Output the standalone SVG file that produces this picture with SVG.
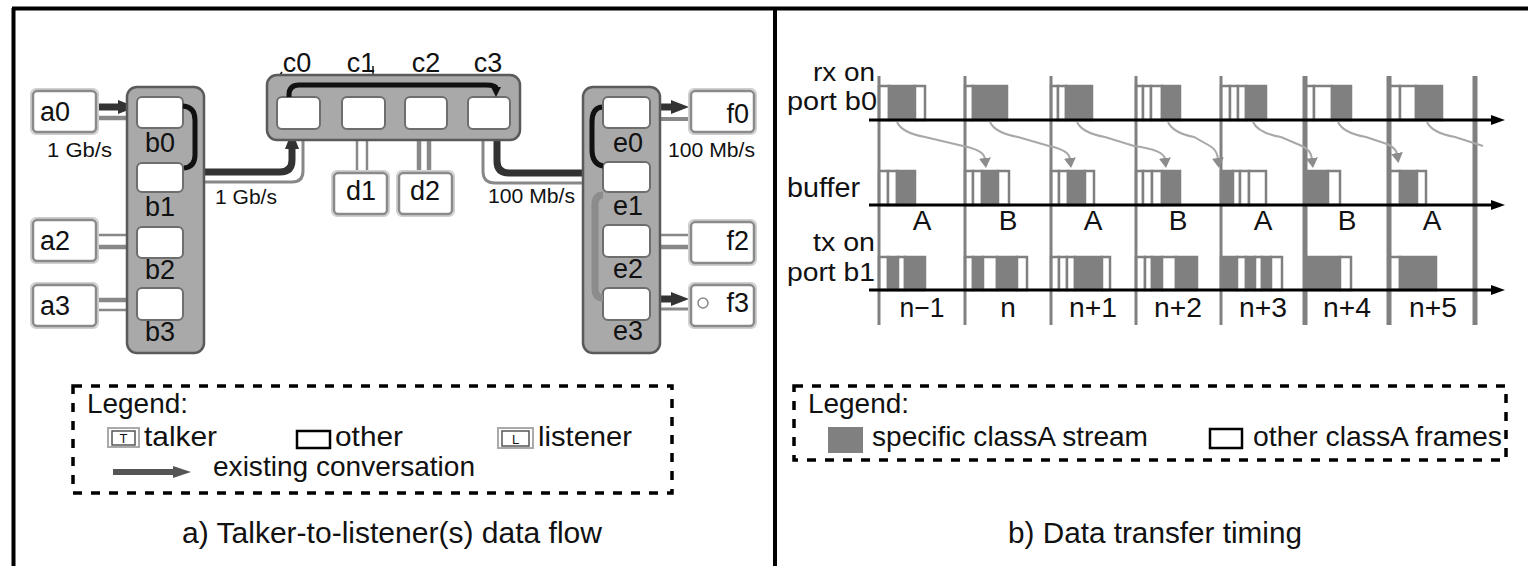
<svg xmlns="http://www.w3.org/2000/svg" width="1528" height="566" viewBox="0 0 1528 566">
<style>
  text { font-family: "Liberation Sans", Arial, Helvetica, sans-serif; fill: #111; }
  .nl { font-size: 27px; }
  .sm { font-size: 21px; }
  .lg { font-size: 28px; }
  .ttl { font-size: 30px; }
  .tl { font-size: 28px; }
  .rl { font-size: 26px; }
  .box { fill: #fff; stroke: #8a8a8a; stroke-width: 2.5; }
  .halo { fill: none; stroke: #d0d0d0; stroke-width: 2; }
  .grp { fill: #a9a9a9; stroke: #5a5a5a; stroke-width: 2.5; }
  .port { fill: #fff; stroke: #6e6e6e; stroke-width: 2; }
  .conv { fill: none; stroke: #333; stroke-width: 7; }
  .flow { fill: none; stroke: #111; stroke-width: 5; }
  .lnk { fill: none; stroke: #888; }
  .fe { fill: #fff; stroke: #808080; stroke-width: 2.5; }
  .ff { fill: #808080; stroke: #808080; stroke-width: 2.5; }
  .div { stroke: #808080; }
  .axis { stroke: #000; stroke-width: 3; }
  .hop { fill: none; stroke: #a8a8a8; stroke-width: 2; }
  .dash { fill: none; stroke: #000; stroke-width: 3.5; stroke-dasharray: 9 9; }
</style>
<defs>
  <marker id="ah" viewBox="0 0 18 14" refX="1" refY="7" markerWidth="18" markerHeight="14" markerUnits="userSpaceOnUse" orient="auto">
    <path d="M0,0 L18,7 L0,14 z" fill="#333"/>
  </marker>
  <marker id="ahs" viewBox="0 0 10 10" refX="1" refY="5" markerWidth="10" markerHeight="10" markerUnits="userSpaceOnUse" orient="auto">
    <path d="M0,0 L10,5 L0,10 z" fill="#111"/>
  </marker>
  <marker id="ahl" viewBox="0 0 18 12" refX="1" refY="6" markerWidth="18" markerHeight="12" markerUnits="userSpaceOnUse" orient="auto">
    <path d="M0,0 L18,6 L0,12 z" fill="#555"/>
  </marker>
  <marker id="ahx" viewBox="0 0 14 10" refX="1" refY="5" markerWidth="14" markerHeight="10" markerUnits="userSpaceOnUse" orient="auto">
    <path d="M0,0 L14,5 L0,10 z" fill="#000"/>
  </marker>
  <marker id="ahg" viewBox="0 0 10 12" refX="1" refY="6" markerWidth="10" markerHeight="12" markerUnits="userSpaceOnUse" orient="auto">
    <path d="M0,0 L10,6 L0,12 z" fill="#8c8c8c"/>
  </marker>
</defs>

<rect width="1528" height="566" fill="#fff"/>

<!-- outer frame and panel divider -->
<g id="frame" stroke="#000" stroke-width="4">
  <line x1="12" y1="8.5" x2="1528" y2="8.5"/>
  <line x1="13.5" y1="8" x2="13.5" y2="566"/>
  <line x1="775" y1="8" x2="775" y2="566"/>
</g>

<!-- ===== a) talker-to-listener data flow ===== -->
<g id="connectors">
  <!-- a0 - b0 -->
  <path class="conv" d="M97 107 L119 107" marker-end="url(#ah)"/>
  <line class="lnk" x1="97" y1="118" x2="137" y2="118" stroke-width="4.5"/>
  <!-- a2 - b2 -->
  <line class="lnk" x1="97" y1="235" x2="137" y2="235" stroke-width="2.5"/>
  <line class="lnk" x1="97" y1="247" x2="137" y2="247" stroke-width="4.5"/>
  <!-- a3 - b3 -->
  <line class="lnk" x1="97" y1="300" x2="137" y2="300" stroke-width="4.5"/>
  <line class="lnk" x1="97" y1="310" x2="137" y2="310" stroke-width="2.5"/>
  <!-- b1 -> c0 -->
  <path class="lnk" stroke-width="3" d="M183 182 L292 182 Q303 182 303 171 L303 129"/>
  <path class="conv" d="M183 172 L280 172 Q292 172 292 160 L292 148" marker-end="url(#ah)"/>
  <line stroke="#111" stroke-width="1.5" x1="282" y1="72" x2="277" y2="79"/>
  <line stroke="#111" stroke-width="1.5" x1="373" y1="66" x2="373" y2="76"/>
  <!-- c1 - d1, c2 - d2 -->
  <line class="lnk" x1="357" y1="129" x2="357" y2="172" stroke-width="2.5"/>
  <line class="lnk" x1="367" y1="129" x2="367" y2="172" stroke-width="2.5"/>
  <line class="lnk" x1="419" y1="129" x2="419" y2="172" stroke-width="4.5"/>
  <line class="lnk" x1="429" y1="129" x2="429" y2="172" stroke-width="4.5"/>
  <!-- c3 -> e1 -->
  <path class="lnk" stroke-width="3" d="M483 129 L483 171 Q483 183 495 183 L603 183"/>
  <path class="conv" d="M497 129 L497 161 Q497 173 509 173 L585 173" marker-end="url(#ah)"/>
  <!-- e0 -> f0 -->
  <path class="conv" d="M650 107 L672 107" marker-end="url(#ah)"/>
  <line class="lnk" x1="650" y1="119" x2="690" y2="119" stroke-width="4"/>
  <!-- e2 - f2 -->
  <line class="lnk" x1="650" y1="235" x2="690" y2="235" stroke-width="2.5"/>
  <line class="lnk" x1="650" y1="247" x2="690" y2="247" stroke-width="4.5"/>
  <!-- e3 -> f3 -->
  <path class="conv" d="M650 299 L672 299" marker-end="url(#ah)"/>
  <line class="lnk" x1="650" y1="309" x2="690" y2="309" stroke-width="3"/>
</g>

<!-- end stations -->
<g id="a0"><rect class="halo" x="31" y="89" width="67" height="45" rx="5"/><rect class="box" x="33" y="91" width="63" height="41" rx="4"/><text class="nl" x="40" y="121">a0</text></g>
<g id="a2"><rect class="halo" x="31" y="218" width="67" height="45" rx="5"/><rect class="box" x="33" y="220" width="63" height="41" rx="4"/><text class="nl" x="40" y="250">a2</text></g>
<g id="a3"><rect class="halo" x="31" y="283" width="67" height="45" rx="5"/><rect class="box" x="33" y="285" width="63" height="41" rx="4"/><text class="nl" x="40" y="315">a3</text></g>
<g id="d1"><rect class="halo" x="332" y="171" width="57" height="45" rx="5"/><rect class="box" x="334" y="173" width="53" height="41" rx="4"/><text class="nl" x="346" y="200">d1</text></g>
<g id="d2"><rect class="halo" x="397" y="171" width="57" height="45" rx="5"/><rect class="box" x="399" y="173" width="53" height="41" rx="4"/><text class="nl" x="410" y="200">d2</text></g>
<g id="f0"><rect class="halo" x="689" y="89" width="67" height="45" rx="5"/><rect class="box" x="691" y="91" width="63" height="41" rx="4"/><text class="nl" x="749" y="123" text-anchor="end">f0</text></g>
<g id="f2"><rect class="halo" x="689" y="220" width="67" height="45" rx="5"/><rect class="box" x="691" y="222" width="63" height="41" rx="4"/><text class="nl" x="749" y="250" text-anchor="end">f2</text></g>
<g id="f3"><rect class="halo" x="689" y="283" width="67" height="45" rx="5"/><rect class="box" x="691" y="285" width="63" height="41" rx="4"/><circle cx="703" cy="303" r="5" fill="#fff" stroke="#888" stroke-width="1.5"/><text class="nl" x="749" y="312" text-anchor="end">f3</text></g>

<!-- bridges -->
<g id="b">
  <rect class="grp" x="127" y="87" width="77" height="266" rx="10"/>
  <rect class="port" x="137" y="97" width="46" height="31" rx="5"/>
  <rect class="port" x="137" y="163" width="46" height="29" rx="5"/>
  <rect class="port" x="137" y="227" width="46" height="31" rx="5"/>
  <rect class="port" x="137" y="288" width="46" height="32" rx="5"/>
  <text class="nl" x="160" y="152" text-anchor="middle">b0</text>
  <text class="nl" x="160" y="216" text-anchor="middle">b1</text>
  <text class="nl" x="160" y="279" text-anchor="middle">b2</text>
  <text class="nl" x="160" y="341" text-anchor="middle">b3</text>
  <!-- b0 -> b1 -->
  <path class="flow" d="M183 106 Q195 107 195 120 L195 155 Q195 167 184 168"/>
</g>
<g id="c">
  <rect class="grp" x="267" y="75" width="253" height="65" rx="10"/>
  <rect class="port" x="277" y="97" width="43" height="32" rx="5"/>
  <rect class="port" x="342" y="97" width="43" height="32" rx="5"/>
  <rect class="port" x="405" y="97" width="42" height="32" rx="5"/>
  <rect class="port" x="468" y="97" width="42" height="32" rx="5"/>
  <text class="nl" x="297" y="72" text-anchor="middle">c0</text>
  <text class="nl" x="361" y="72" text-anchor="middle">c1</text>
  <text class="nl" x="426" y="72" text-anchor="middle">c2</text>
  <text class="nl" x="488" y="72" text-anchor="middle">c3</text>
  <!-- c0 -> c3 -->
  <path class="flow" d="M289 97 L289 95 Q289 85 299 85 L486 85 Q496 85 496 88" marker-end="url(#ahs)"/>
</g>
<g id="e">
  <rect class="grp" x="583" y="87" width="77" height="266" rx="10"/>
  <rect class="port" x="603" y="97" width="47" height="31" rx="5"/>
  <rect class="port" x="603" y="162" width="47" height="30" rx="5"/>
  <rect class="port" x="603" y="225" width="47" height="32" rx="5"/>
  <rect class="port" x="603" y="288" width="47" height="32" rx="5"/>
  <text class="nl" x="628" y="152" text-anchor="middle">e0</text>
  <text class="nl" x="628" y="215" text-anchor="middle">e1</text>
  <text class="nl" x="628" y="278" text-anchor="middle">e2</text>
  <text class="nl" x="628" y="340" text-anchor="middle">e3</text>
  <!-- e1 -> e0 and e1 -> e3 -->
  <path fill="none" stroke="#8c8c8c" stroke-width="7" d="M603 195 Q595 195 595 205 L595 288 Q595 298 603 298"/>
  <path class="flow" d="M603 166 Q592 164 592 150 L592 122 Q592 108 602 107"/>
</g>

<!-- link rates -->
<g id="rates">
  <text class="sm" x="47" y="157" textLength="65" lengthAdjust="spacingAndGlyphs">1 Gb/s</text>
  <text class="sm" x="215" y="204" textLength="62" lengthAdjust="spacingAndGlyphs">1 Gb/s</text>
  <text class="sm" x="488" y="203" textLength="87" lengthAdjust="spacingAndGlyphs">100 Mb/s</text>
  <text class="sm" x="668" y="157" textLength="87" lengthAdjust="spacingAndGlyphs">100 Mb/s</text>
</g>

<!-- legend a -->
<g id="legend-a">
  <rect class="dash" x="73" y="386" width="599" height="107"/>
  <text class="lg" x="87" y="413" textLength="101" lengthAdjust="spacingAndGlyphs">Legend:</text>
  <rect x="108" y="428" width="31" height="19" fill="#fff" stroke="#aaa" stroke-width="2"/>
  <rect x="112" y="431" width="23" height="14" fill="none" stroke="#555" stroke-width="1.5"/>
  <text x="123.5" y="443" font-size="13" text-anchor="middle">T</text>
  <text class="lg" x="144" y="446" textLength="73" lengthAdjust="spacingAndGlyphs">talker</text>
  <rect x="297" y="431" width="33" height="17" fill="none" stroke="#000" stroke-width="2.5"/>
  <text class="lg" x="335" y="446" textLength="68" lengthAdjust="spacingAndGlyphs">other</text>
  <rect x="498" y="428" width="35" height="20" fill="#fff" stroke="#aaa" stroke-width="2"/>
  <rect x="502" y="431" width="27" height="15" fill="none" stroke="#555" stroke-width="1.5"/>
  <text x="515.5" y="444" font-size="13" text-anchor="middle">L</text>
  <text class="lg" x="538" y="446" textLength="94" lengthAdjust="spacingAndGlyphs">listener</text>
  <path d="M113 472 L174 472" stroke="#555" stroke-width="6" marker-end="url(#ahl)"/>
  <text class="lg" x="213" y="476" textLength="262" lengthAdjust="spacingAndGlyphs">existing conversation</text>
</g>
<text class="ttl" x="182" y="543" textLength="420" lengthAdjust="spacingAndGlyphs">a) Talker-to-listener(s) data flow</text>

<!-- ===== b) data transfer timing ===== -->
<g id="rx-frames">
  <rect class="fe" x="879" y="86" width="10" height="34"/><rect class="ff" x="889" y="86" width="26" height="34"/><rect class="fe" x="915" y="86" width="10" height="34"/>
  <rect class="fe" x="965" y="86" width="8" height="34"/><rect class="ff" x="973" y="86" width="34" height="34"/>
  <rect class="fe" x="1051" y="86" width="7" height="34"/><rect class="fe" x="1058" y="86" width="8" height="34"/><rect class="ff" x="1066" y="86" width="26" height="34"/>
  <rect class="fe" x="1136" y="86" width="7" height="34"/><rect class="fe" x="1143" y="86" width="8" height="34"/><rect class="fe" x="1151" y="86" width="11" height="34"/><rect class="ff" x="1162" y="86" width="18" height="34"/>
  <rect class="fe" x="1221" y="86" width="9" height="34"/><rect class="fe" x="1230" y="86" width="8" height="34"/><rect class="fe" x="1238" y="86" width="8" height="34"/><rect class="ff" x="1246" y="86" width="20" height="34"/>
  <rect class="fe" x="1305" y="86" width="9" height="34"/><rect class="fe" x="1314" y="86" width="18" height="34"/><rect class="ff" x="1332" y="86" width="19" height="34"/>
  <rect class="fe" x="1389" y="86" width="11" height="34"/><rect class="fe" x="1400" y="86" width="16" height="34"/><rect class="ff" x="1416" y="86" width="26" height="34"/>
</g>
<g id="buffer-frames">
  <rect class="fe" x="879" y="171" width="9" height="34"/><rect class="fe" x="888" y="171" width="9" height="34"/><rect class="ff" x="897" y="171" width="18" height="34"/>
  <rect class="fe" x="965" y="171" width="8" height="34"/><rect class="fe" x="973" y="171" width="9" height="34"/><rect class="ff" x="982" y="171" width="16" height="34"/><rect class="fe" x="998" y="171" width="11" height="34"/>
  <rect class="fe" x="1051" y="171" width="8" height="34"/><rect class="fe" x="1059" y="171" width="9" height="34"/><rect class="ff" x="1068" y="171" width="17" height="34"/><rect class="fe" x="1085" y="171" width="9" height="34"/>
  <rect class="fe" x="1136" y="171" width="7" height="34"/><rect class="fe" x="1143" y="171" width="9" height="34"/><rect class="fe" x="1152" y="171" width="10" height="34"/><rect class="ff" x="1162" y="171" width="18" height="34"/>
  <rect class="ff" x="1221" y="171" width="12" height="34"/><rect class="fe" x="1233" y="171" width="7" height="34"/><rect class="fe" x="1240" y="171" width="9" height="34"/><rect class="fe" x="1249" y="171" width="17" height="34"/>
  <rect class="ff" x="1305" y="171" width="23" height="34"/><rect class="fe" x="1328" y="171" width="12" height="34"/>
  <rect class="fe" x="1389" y="171" width="11" height="34"/><rect class="ff" x="1400" y="171" width="17" height="34"/><rect class="fe" x="1417" y="171" width="9" height="34"/>
</g>
<g id="tx-frames">
  <rect class="fe" x="879" y="257" width="9" height="33"/><rect class="ff" x="888" y="257" width="10" height="33"/><rect class="fe" x="898" y="257" width="7" height="33"/><rect class="ff" x="905" y="257" width="20" height="33"/>
  <rect class="fe" x="965" y="257" width="8" height="33"/><rect class="ff" x="973" y="257" width="10" height="33"/><rect class="fe" x="983" y="257" width="14" height="33"/><rect class="ff" x="997" y="257" width="20" height="33"/><rect class="fe" x="1017" y="257" width="10" height="33"/>
  <rect class="fe" x="1051" y="257" width="8" height="33"/><rect class="fe" x="1059" y="257" width="8" height="33"/><rect class="fe" x="1067" y="257" width="8" height="33"/><rect class="ff" x="1075" y="257" width="27" height="33"/><rect class="fe" x="1102" y="257" width="8" height="33"/>
  <rect class="fe" x="1136" y="257" width="9" height="33"/><rect class="fe" x="1145" y="257" width="7" height="33"/><rect class="ff" x="1152" y="257" width="10" height="33"/><rect class="fe" x="1162" y="257" width="14" height="33"/><rect class="ff" x="1176" y="257" width="21" height="33"/>
  <rect class="ff" x="1221" y="257" width="16" height="33"/><rect class="fe" x="1237" y="257" width="9" height="33"/><rect class="ff" x="1246" y="257" width="9" height="33"/><rect class="fe" x="1255" y="257" width="7" height="33"/><rect class="ff" x="1262" y="257" width="9" height="33"/><rect class="fe" x="1271" y="257" width="11" height="33"/>
  <rect class="ff" x="1305" y="257" width="35" height="33"/><rect class="fe" x="1340" y="257" width="11" height="33"/>
  <rect class="fe" x="1389" y="257" width="11" height="33"/><rect class="ff" x="1400" y="257" width="36" height="33"/>
</g>

<!-- cycle boundaries -->
<g id="cycles" class="div">
  <line x1="879" y1="76" x2="879" y2="325" stroke-width="3"/>
  <line x1="965" y1="76" x2="965" y2="325" stroke-width="3"/>
  <line x1="1051" y1="76" x2="1051" y2="325" stroke-width="3"/>
  <line x1="1136" y1="76" x2="1136" y2="325" stroke-width="3"/>
  <line x1="1221" y1="76" x2="1221" y2="325" stroke-width="3"/>
  <line x1="1305" y1="76" x2="1305" y2="325" stroke-width="5"/>
  <line x1="1389" y1="76" x2="1389" y2="325" stroke-width="5"/>
  <line x1="1475" y1="76" x2="1475" y2="325" stroke-width="5"/>
</g>

<!-- time axes -->
<g id="axes">
  <path class="axis" d="M869 120 L1492 120" marker-end="url(#ahx)"/>
  <path class="axis" d="M869 205 L1492 205" marker-end="url(#ahx)"/>
  <path class="axis" d="M869 290 L1492 290" marker-end="url(#ahx)"/>
</g>

<!-- frame hand-over from rx to buffer -->
<g id="hops">
  <path class="hop" d="M897 122 Q902 133 925 137 L963 146 Q984 150 985 159" marker-end="url(#ahg)"/>
  <path class="hop" d="M990 122 Q995 133 1018 137 L1049 146 Q1069 150 1070 159" marker-end="url(#ahg)"/>
  <path class="hop" d="M1077 122 Q1082 133 1105 137 L1134 146 Q1164 150 1165 159" marker-end="url(#ahg)"/>
  <path class="hop" d="M1168 122 Q1173 133 1194 137 L1210 146 Q1217 150 1218 159" marker-end="url(#ahg)"/>
  <path class="hop" d="M1253 122 Q1258 133 1281 137 L1302 146 Q1311 150 1312 159" marker-end="url(#ahg)"/>
  <path class="hop" d="M1338 122 Q1343 133 1366 137 L1387 144 Q1396 148 1397 154" marker-end="url(#ahg)"/>
  <path class="hop" d="M1427 122 Q1432 133 1455 137 L1483 146"/>
</g>

<!-- row and cycle labels -->
<g id="timing-labels">
  <text class="rl" x="813" y="81" textLength="62" lengthAdjust="spacingAndGlyphs">rx on</text>
  <text class="rl" x="787" y="110" textLength="90" lengthAdjust="spacingAndGlyphs">port b0</text>
  <text class="tl" x="787" y="197" textLength="73" lengthAdjust="spacingAndGlyphs">buffer</text>
  <text class="rl" x="813" y="251" textLength="62" lengthAdjust="spacingAndGlyphs">tx on</text>
  <text class="rl" x="787" y="281" textLength="88" lengthAdjust="spacingAndGlyphs">port b1</text>
  <g text-anchor="middle">
    <text class="tl" x="922" y="230">A</text>
    <text class="tl" x="1008" y="230">B</text>
    <text class="tl" x="1093" y="230">A</text>
    <text class="tl" x="1178" y="230">B</text>
    <text class="tl" x="1263" y="230">A</text>
    <text class="tl" x="1347" y="230">B</text>
    <text class="tl" x="1432" y="230">A</text>
    <text class="tl" x="922" y="317" textLength="45" lengthAdjust="spacingAndGlyphs">n−1</text>
    <text class="tl" x="1008" y="317">n</text>
    <text class="tl" x="1093" y="317" textLength="48" lengthAdjust="spacingAndGlyphs">n+1</text>
    <text class="tl" x="1178" y="317" textLength="48" lengthAdjust="spacingAndGlyphs">n+2</text>
    <text class="tl" x="1263" y="317" textLength="48" lengthAdjust="spacingAndGlyphs">n+3</text>
    <text class="tl" x="1347" y="317" textLength="48" lengthAdjust="spacingAndGlyphs">n+4</text>
    <text class="tl" x="1433" y="317" textLength="48" lengthAdjust="spacingAndGlyphs">n+5</text>
  </g>
</g>

<!-- legend b -->
<g id="legend-b">
  <rect class="dash" x="794" y="386" width="712" height="74"/>
  <text class="lg" x="808" y="413" textLength="101" lengthAdjust="spacingAndGlyphs">Legend:</text>
  <rect x="828" y="427" width="35" height="26" fill="#808080"/>
  <text class="lg" x="872" y="446" textLength="276" lengthAdjust="spacingAndGlyphs">specific classA stream</text>
  <rect x="1210" y="429" width="32" height="19" fill="none" stroke="#000" stroke-width="2.5"/>
  <text class="lg" x="1253" y="446" textLength="249" lengthAdjust="spacingAndGlyphs">other classA frames</text>
</g>
<text class="ttl" x="1008" y="543" textLength="294" lengthAdjust="spacingAndGlyphs">b) Data transfer timing</text>
</svg>
